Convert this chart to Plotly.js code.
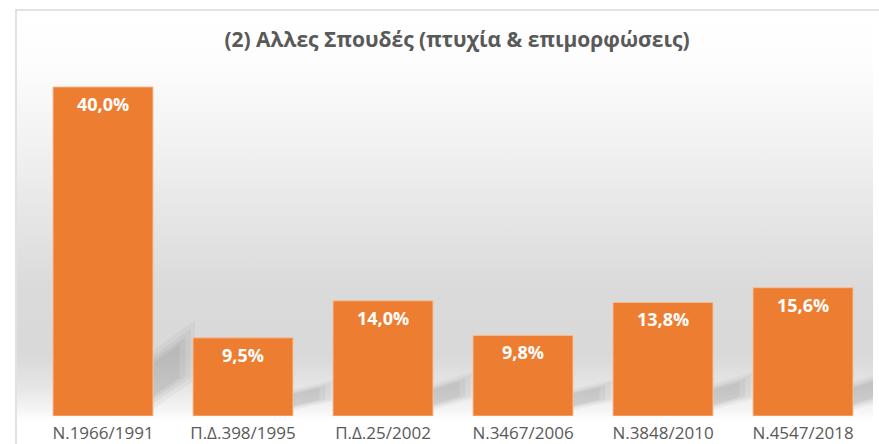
<!DOCTYPE html>
<html>
<head>
<meta charset="utf-8">
<script src="https://cdn.plot.ly/plotly-3.0.1.min.js"></script>
<style>html,body{margin:0;padding:0;background:#fff;}#chart{width:879px;height:444px;}</style>
</head>
<body>
<div id="chart"></div>
<script>
var categories = ["Ν.1966/1991", "Π.Δ.398/1995", "Π.Δ.25/2002", "Ν.3467/2006", "Ν.3848/2010", "Ν.4547/2018"];
var values = [40.0, 9.5, 14.0, 9.8, 13.8, 15.6];
var labels = values.map(function(v){ return v.toFixed(1).replace('.', ',') + '%'; });
var titleText = "(2) Αλλες Σπουδές (πτυχία & επιμορφώσεις)";

var W = 879, H = 444, mL = 33, mR = 6, mT = 60, mB = 28;
var pw = W - mL - mR, ph = H - mT - mB;
function px2x(p){ return (p - mL) / pw; }
function py2y(p){ return (H - mB - p) / ph; }

var grad = "<svg xmlns='http://www.w3.org/2000/svg' width='100' height='100' preserveAspectRatio='none'>" +
  "<defs><linearGradient id='g' x1='0' y1='0' x2='0' y2='1'>" +
  "<stop offset='0' stop-color='#ffffff'/>" +
  "<stop offset='0.12' stop-color='#fdfdfd'/>" +
  "<stop offset='0.30' stop-color='#f3f3f3'/>" +
  "<stop offset='0.50' stop-color='#e6e6e6'/>" +
  "<stop offset='0.68' stop-color='#dadada'/>" +
  "<stop offset='0.84' stop-color='#d9d9d9'/>" +
  "<stop offset='0.92' stop-color='#e6e6e6'/>" +
  "<stop offset='0.975' stop-color='#f6f6f6'/>" +
  "<stop offset='1' stop-color='#ffffff'/>" +
  "</linearGradient></defs><rect width='100' height='100' fill='url(#g)'/></svg>";
var gradSrc = "data:image/svg+xml;charset=utf-8," + encodeURIComponent(grad);

var shapes = [];
// chart border
shapes.push({type:'rect', xref:'paper', yref:'paper', x0:px2x(16), x1:px2x(W+20), y0:py2y(H+20), y1:py2y(10),
  line:{color:'#d9d9d9', width:1.5}, fillcolor:'rgba(0,0,0,0)', layer:'below'});
// soft perspective shadows to the right of each bar
var barHalf = 0.357;
var shadowLayers = [{d:0.30, e:0.45, op:0.05}, {d:0.27, e:0.28, op:0.06}, {d:0.23, e:0.14, op:0.07}, {d:0.19, e:0.03, op:0.07}];
values.forEach(function(v, i){
  var xr = i + barHalf;
  var lo = 0.04 * v + 0.9, t = 0.08 * v + 0.6, rise = 0.08 * v + 0.4;
  var hi = lo + t;
  shadowLayers.forEach(function(L){
    var r = rise * L.d / 0.30;
    var y0 = Math.max(0.05, lo - L.e * t), y1 = hi + L.e * t;
    var y0r = Math.max(0.05, lo + r - L.e * t), y1r = hi + r + L.e * t;
    shapes.push({type:'path', xref:'x', yref:'y', layer:'below',
      path:'M' + xr + ',' + y0 + ' L' + (xr + L.d) + ',' + y0r + ' L' + (xr + L.d) + ',' + y1r + ' L' + xr + ',' + y1 + ' Z',
      fillcolor:'rgba(90,90,90,' + L.op + ')', line:{width:0}});
  });
});

var annotations = values.map(function(v, i){
  return {x: categories[i], y: v, xref:'x', yref:'y', text: labels[i], showarrow:false,
    yanchor:'middle', yshift:-17, font:{family:'Open Sans', size:18, color:'#ffffff', weight:700}};
});

var trace = {
  type:'bar', x:categories, y:values,
  marker:{color:'#ED7D31', line:{color:'rgba(248,190,150,0.9)', width:1}},
  hoverinfo:'none', textposition:'none'
};

var layout = {
  width:W, height:H,
  margin:{l:mL, r:mR, t:mT, b:mB, pad:0},
  paper_bgcolor:'#ffffff', plot_bgcolor:'rgba(0,0,0,0)',
  bargap:0.286,
  showlegend:false,
  title:{text:titleText, x:457 / W, xanchor:'center', y:1 - 40/H, yanchor:'middle',
    font:{family:'Open Sans', size:21, color:'#595959', weight:700}},
  xaxis:{type:'category', range:[-0.5, 5.5], autorange:false, showgrid:false, zeroline:false, showline:false, ticks:'',
    ticklabelstandoff:5,
    tickfont:{family:'Open Sans', size:17, color:'#595959'}, fixedrange:true},
  yaxis:{range:[0, 43.28], autorange:false, showgrid:false, zeroline:false, showline:false, showticklabels:false, ticks:'', fixedrange:true},
  images:[{source:gradSrc, xref:'paper', yref:'paper', x:px2x(17), y:py2y(11), sizex:px2x(873)-px2x(17), sizey:py2y(11)-py2y(421),
    xanchor:'left', yanchor:'top', sizing:'stretch', layer:'below'}],
  shapes:shapes,
  annotations:annotations
};

Plotly.newPlot('chart', [trace], layout, {displayModeBar:false, staticPlot:true});
</script>
</body>
</html>
